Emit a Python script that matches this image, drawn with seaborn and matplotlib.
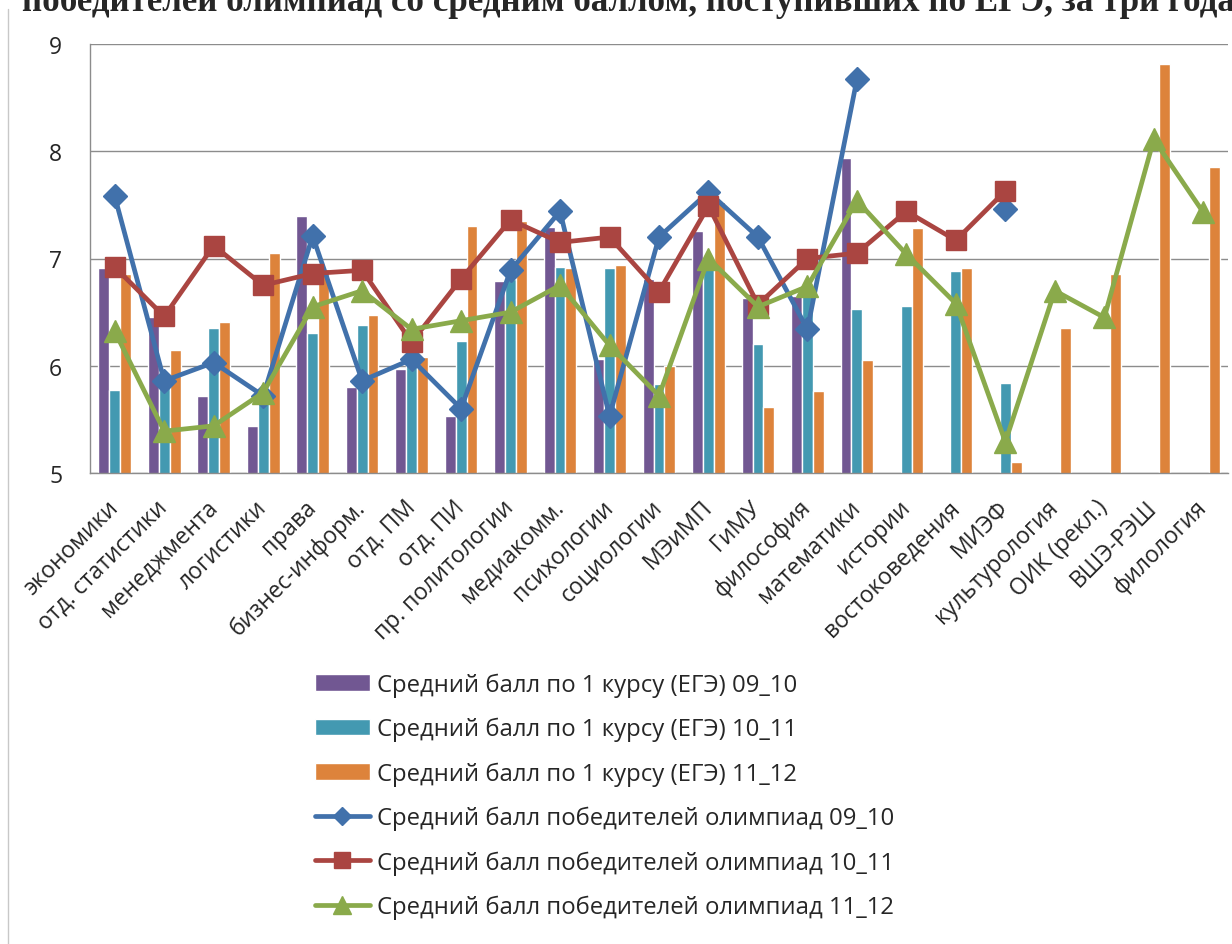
import numpy as np
import pandas as pd
import seaborn as sns
import matplotlib.pyplot as plt
from matplotlib.patches import Patch
from matplotlib.lines import Line2D

nan = np.nan

categories = ["экономики", "отд. статистики", "менеджмента", "логистики",
              "права", "бизнес-информ.", "отд. ПМ", "отд. ПИ",
              "пр. политологии", "медиакомм.", "психологии", "социологии",
              "МЭиМП", "ГиМУ", "философия", "математики", "истории",
              "востоковедения", "МИЭФ", "культурология", "ОИК (рекл.)",
              "ВШЭ-РЭШ", "филология"]

# bars: average score of first-year students (EGE)
ege_09_10 = [6.91, 6.45, 5.72, 5.44, 7.40, 5.80, 5.97, 5.53, 6.79, 7.29, 6.06,
             6.81, 7.26, 6.63, 6.65, 7.94, nan, nan, nan, nan, nan, nan, nan]
ege_10_11 = [5.77, 5.85, 6.35, 5.70, 6.31, 6.38, 6.02, 6.23, 6.81, 6.92, 6.91,
             5.83, 7.00, 6.20, 6.70, 6.53, 6.56, 6.88, 5.84, nan, nan, nan, nan]
ege_11_12 = [6.86, 6.15, 6.41, 7.05, 6.90, 6.47, 6.08, 7.30, 7.35, 6.91, 6.94,
             6.00, 7.53, 5.62, 5.76, 6.05, 7.28, 6.91, 5.10, 6.35, 6.86, 8.81,
             7.85]

# lines: average score of olympiad winners
olymp_09_10 = [7.58, 5.86, 6.03, 5.72, 7.21, 5.86, 6.06, 5.60, 6.89, 7.44, 5.53,
               7.20, 7.62, 7.20, 6.34, 8.67, nan, nan, 7.46, nan, nan, nan, nan]
olymp_10_11 = [6.92, 6.46, 7.12, 6.75, 6.86, 6.89, 6.22, 6.81, 7.36, 7.15, 7.20,
               6.69, 7.49, 6.57, 7.00, 7.05, 7.44, 7.17, 7.63, nan, nan, nan, nan]
olymp_11_12 = [6.32, 5.39, 5.44, 5.75, 6.55, 6.70, 6.34, 6.42, 6.50, 6.75, 6.19,
               5.72, 7.00, 6.55, 6.74, 7.54, 7.04, 6.58, 5.29, 6.70, 6.45, 8.11,
               7.43]

bar_names = ["Средний балл по 1 курсу (ЕГЭ) 09_10",
             "Средний балл по 1 курсу (ЕГЭ) 10_11",
             "Средний балл по 1 курсу (ЕГЭ) 11_12"]
line_names = ["Средний балл победителей олимпиад 09_10",
              "Средний балл победителей олимпиад 10_11",
              "Средний балл победителей олимпиад 11_12"]

bar_colors = ["#715792", "#4399B1", "#DD833B"]
line_colors = ["#4171AB", "#AA4541", "#8AAA4B"]
line_markers = ["D", "s", "^"]
marker_sizes = [12, 14.5, 15.5]

sns.set_style("white")
plt.rcParams['font.family'] = ['Open Sans', 'DejaVu Sans']

df = pd.DataFrame({"cat": categories * 3,
                   "val": ege_09_10 + ege_10_11 + ege_11_12,
                   "series": np.repeat(bar_names, len(categories))})

fig = plt.figure(figsize=(12.32, 9.45), dpi=100)
ax = fig.add_axes([90 / 1232, 1 - 474 / 945, 1138 / 1232, 429 / 945])

sns.barplot(data=df, x="cat", y="val", hue="series", order=categories,
            hue_order=bar_names, palette=bar_colors, width=0.66,
            saturation=1, legend=False, ax=ax, zorder=2)

xs = np.arange(len(categories))
for vals, col, mk, ms in zip([olymp_09_10, olymp_10_11, olymp_11_12],
                             line_colors, line_markers, marker_sizes):
    ax.plot(xs, vals, color=col, lw=3.4, marker=mk, markersize=ms,
            markeredgecolor=col, zorder=3)

ax.set_ylim(5, 9)
ax.set_xlim(-0.5, len(categories) - 0.5)
ax.set_yticks([5, 6, 7, 8, 9])
ax.yaxis.grid(True, color="#8c8c8c", lw=1.0)
ax.set_axisbelow(True)
for s in ["top", "right"]:
    ax.spines[s].set_visible(False)
for s in ["left", "bottom"]:
    ax.spines[s].set_color("#8c8c8c")
    ax.spines[s].set_linewidth(1.0)
ax.set_xlabel("")
ax.set_ylabel("")

ax.tick_params(axis="y", length=6, color="#8c8c8c", pad=14, labelsize=16.5)
ax.set_xticks(xs)
ax.set_xticklabels(categories, rotation=45, ha="right", va="center",
                   rotation_mode="anchor", fontsize=16.5)
ax.tick_params(axis="x", which="major", length=0, pad=22)
ax.set_xticks(np.arange(len(categories) + 1) - 0.5, minor=True)
ax.tick_params(axis="x", which="minor", length=6, color="#8c8c8c")

handles = [Patch(facecolor=c) for c in bar_colors]
handles += [Line2D([0], [0], color=c, lw=3.4, marker=m, markersize=ms * 0.8)
            for c, m, ms in zip(line_colors, line_markers, marker_sizes)]
fig.legend(handles, bar_names + line_names, loc="upper left",
           bbox_to_anchor=(305 / 1232, 1 - 664 / 945), frameon=False,
           fontsize=17.2, handlelength=2.3, handleheight=0.7,
           handletextpad=0.3, labelspacing=0.84, borderaxespad=0)

fig.text(22 / 1232, 1 - 11 / 945,
         "победителей олимпиад со средним баллом, поступивших по ЕГЭ, за три года",
         family="Liberation Serif", fontweight="bold", fontsize=25.2,
         ha="left", va="baseline")
fig.add_artist(Line2D([8 / 1232, 8 / 1232], [0, 1 - 10 / 945],
                      transform=fig.transFigure, color="#c8c8c8", lw=1))

plt.savefig("out.png", dpi=100)
plt.close()
